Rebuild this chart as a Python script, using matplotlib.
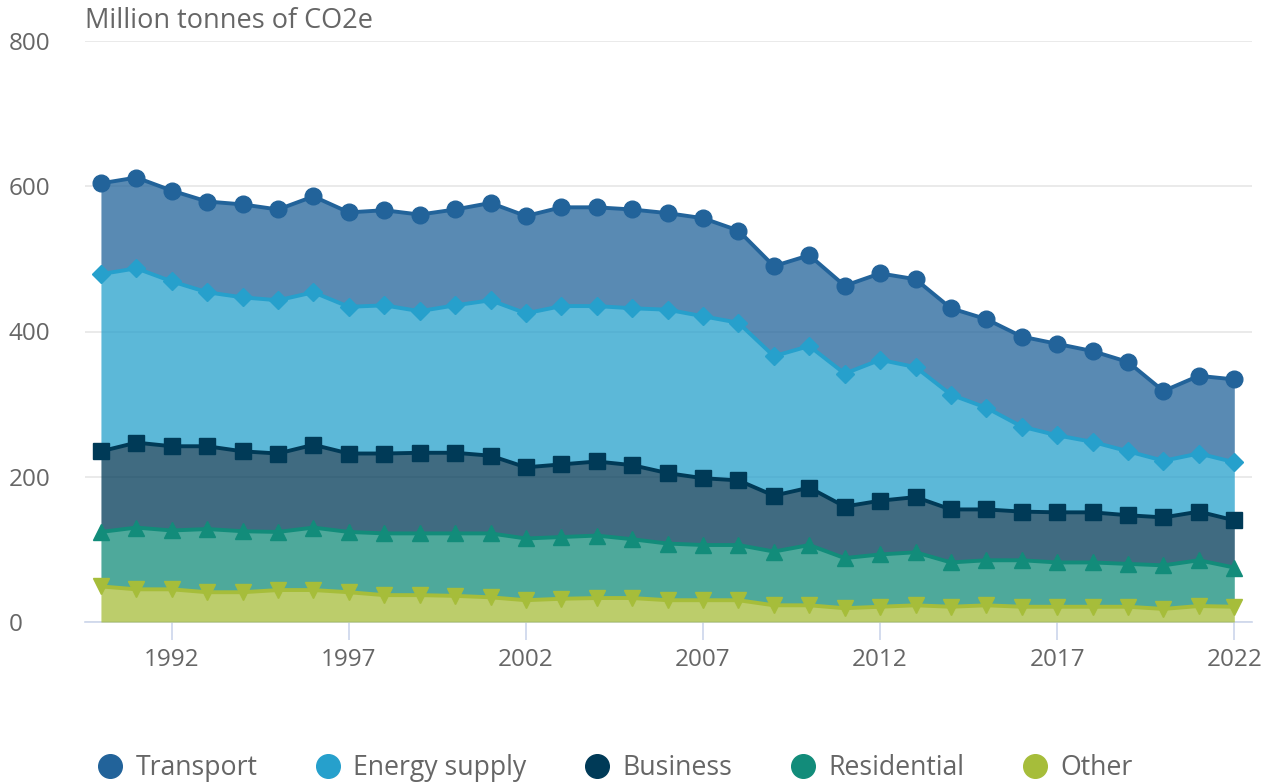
import numpy as np
import matplotlib
matplotlib.use("Agg")
import matplotlib.pyplot as plt
from matplotlib.lines import Line2D

plt.rcParams['font.family'] = ['Open Sans', 'DejaVu Sans']

# data (million tonnes CO2e), stacked bottom -> top
years = list(range(1990, 2023))
other = [49, 45, 45, 41, 41, 44, 44, 41, 37, 37, 36, 34, 30, 32, 33, 33, 30, 30, 30, 23, 23,
         19, 21, 23, 21, 23, 21, 21, 21, 21, 18, 22, 21]
residential = [75, 85, 81, 87, 84, 80, 86, 83, 85, 85, 86, 88, 85, 85, 86, 81, 78, 76, 76, 74, 83,
               69, 72, 73, 61, 62, 64, 61, 61, 59, 60, 63, 54]
business = [111, 117, 116, 114, 110, 108, 114, 108, 110, 111, 111, 107, 98, 100, 102, 102, 97, 92, 89, 77, 79,
            71, 74, 76, 73, 70, 67, 69, 69, 67, 66, 67, 65]
energy_supply = [244, 240, 227, 212, 212, 211, 210, 202, 204, 195, 203, 214, 212, 218, 214, 216, 225, 223, 217, 192, 195,
                 183, 194, 179, 158, 140, 117, 106, 97, 88, 78, 80, 80]
transport = [125, 125, 125, 125, 128, 125, 132, 130, 131, 133, 132, 134, 134, 136, 136, 136, 133, 135, 127, 124, 125,
             121, 119, 121, 119, 122, 124, 126, 125, 123, 96, 107, 114]

names = ['Other', 'Residential', 'Business', 'Energy supply', 'Transport']
series = [other, residential, business, energy_supply, transport]
colors = ['#a6bd3a', '#128c7a', '#003a57', '#26a0cc', '#22639a']
markers = ['v', '^', 's', 'D', 'o']
msizes = [12, 12, 11, 9, 12]

fig = plt.figure(figsize=(12.7, 7.83), dpi=100)
ax = fig.add_axes([85 / 1270, 1 - 622 / 783, (1252 - 85) / 1270, (622 - 41) / 783])

x = np.array(years)
base = np.zeros(len(years))
for vals, c, m, ms in zip(series, colors, markers, msizes):
    top = base + np.array(vals)
    ax.fill_between(x, base, top, color=c, alpha=0.75, linewidth=0, zorder=2)
    ax.plot(x, top, color=c, lw=2.8, marker=m, markersize=ms, zorder=3)
    base = top

ax.set_xlim(1989.55, 2022.5)
ax.set_ylim(0, 800)
ax.set_yticks([0, 200, 400, 600, 800])
ax.set_xticks(list(range(1992, 2023, 5)))
ax.grid(axis='y', color='#e6e6e6', lw=1.2, zorder=1)
ax.set_axisbelow(True)
for s in ['top', 'right', 'left']:
    ax.spines[s].set_visible(False)
ax.spines['bottom'].set_color('#ccd6eb')
ax.spines['bottom'].set_linewidth(1.2)
ax.spines['bottom'].set_zorder(1)
ax.tick_params(axis='y', length=0, pad=55, labelsize=17.5, labelcolor='#666666')
ax.tick_params(axis='x', length=13, width=1.2, color='#ccd6eb', pad=6, labelsize=17.5, labelcolor='#666666')
for lab in ax.get_yticklabels():
    lab.set_horizontalalignment('left')

fig.text(85 / 1270, 1 - 21 / 783, 'Million tonnes of CO2e', fontsize=19.5, color='#666666', va='center', ha='left')

handles = [Line2D([], [], ls='', marker='o', markersize=17, color=c) for c in colors[::-1]]
fig.legend(handles, names[::-1], loc='center', bbox_to_anchor=(0.484, 1 - 768 / 783), ncol=5,
           frameon=False, fontsize=19.2, labelcolor='#666666', handletextpad=0.45, columnspacing=2.15,
           handlelength=1.0)

fig.savefig('out.png', dpi=100)
